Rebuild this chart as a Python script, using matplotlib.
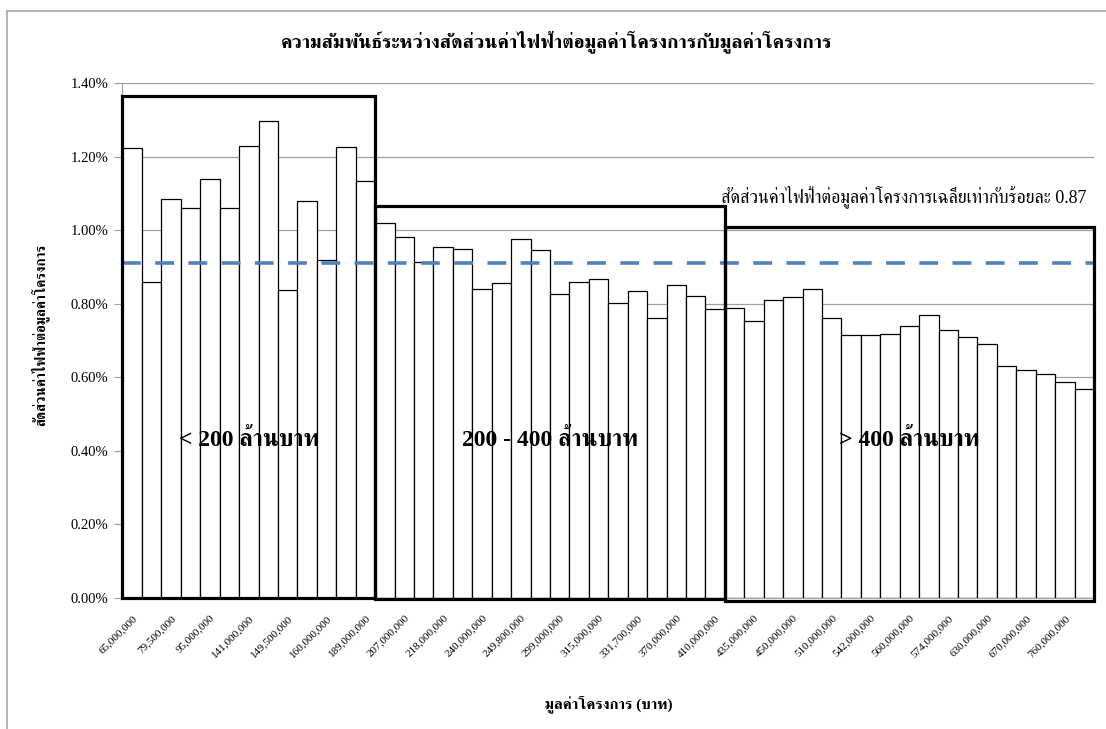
import matplotlib
matplotlib.use("Agg")
import matplotlib.pyplot as plt
from matplotlib import font_manager
from matplotlib.ft2font import FT2Font
from matplotlib.patches import Rectangle
import numpy as np

# ratio of electricity cost to project value (%), one bar per project
group_small = [1.223, 0.859, 1.085, 1.060, 1.140, 1.060, 1.230, 1.298, 0.837,
               1.078, 0.918, 1.226, 1.134]
group_mid = [1.019, 0.982, 0.913, 0.955, 0.949, 0.841, 0.855, 0.977, 0.945,
             0.826, 0.859, 0.868, 0.803, 0.835, 0.761, 0.850, 0.822, 0.785]
group_large = [0.788, 0.752, 0.809, 0.819, 0.841, 0.760, 0.714, 0.714, 0.717,
               0.739, 0.769, 0.729, 0.710, 0.690, 0.632, 0.621, 0.609, 0.587,
               0.568]

# project values shown under every second bar
value_labels = ["65,000,000", "79,500,000", "95,000,000", "141,000,000",
                "149,500,000", "160,000,000", "189,000,000", "207,000,000",
                "218,000,000", "240,000,000", "249,800,000", "299,000,000",
                "315,000,000", "331,700,000", "370,000,000", "410,000,000",
                "435,000,000", "450,000,000", "510,000,000", "542,000,000",
                "560,000,000", "574,000,000", "630,000,000", "670,000,000",
                "760,000,000"]

group_names = ["< 200 ล้านบาท", "200 - 400 ล้านบาท", "> 400 ล้านบาท"]
group_box_tops = [1.365, 1.066, 1.008]
ref_line = 0.91

title = "ความสัมพันธ์ระหว่างสัดส่วนค่าไฟฟ้าต่อมูลค่าโครงการกับมูลค่าโครงการ"
xlabel = "มูลค่าโครงการ (บาท)"
ylabel = "สัดส่วนค่าไฟฟ้าต่อมูลค่าโครงการ"
note = "สัดส่วนค่าไฟฟ้าต่อมูลค่าโครงการเฉลี่ยเท่ากับร้อยละ"


def find_thai_font():
    # pick an installed font that actually has Thai glyphs
    prefer = ["serif", "norasi", "kinnari", "sarabun", "laksaman", "garuda",
              "loma", "thai"]
    found = []
    for f in font_manager.fontManager.ttflist:
        try:
            cmap = FT2Font(f.fname).get_charmap()
        except Exception:
            continue
        if 0x0E01 in cmap and 0x0E48 in cmap:
            found.append(f.name)
    if not found:
        return None
    for key in prefer:
        for name in found:
            if key in name.lower():
                return name
    return found[0]


thai = find_thai_font()
fam = ["Liberation Serif"] + ([thai] if thai else []) + ["DejaVu Sans"]
plt.rcParams["font.family"] = fam

values = np.array(group_small + group_mid + group_large)
x = np.arange(len(values))

W, H = 1106, 729
fig = plt.figure(figsize=(W / 100, H / 100), dpi=100)


def fx(px):
    return px / W


def fy(py):
    return 1 - py / H


ax = fig.add_axes([fx(122.5), fy(598), fx(1094) - fx(122.5), fy(83) - fy(598)])

ax.bar(x, values, width=1.0, color="white", edgecolor="black",
       linewidth=0.9, zorder=2)

ax.axhline(ref_line, color="#4f81bd", linewidth=2.6, dashes=(5.2, 4.0),
           zorder=4)

# thick frames around the three project-size groups
sizes = [len(group_small), len(group_mid), len(group_large)]
bottoms = [0.0, -0.002, -0.007]
start = 0
for n, top, bot, name in zip(sizes, group_box_tops, bottoms, group_names):
    ax.add_patch(Rectangle((start - 0.5, bot), n, top - bot, fill=False,
                           edgecolor="black", linewidth=2.3, zorder=5,
                           clip_on=False))
    ax.text(start - 0.5 + n / 2, 0.43, name, ha="center", va="center",
            fontsize=17, fontweight="bold", zorder=6)
    start += n

ax.set_xlim(-0.5, len(values) - 0.5)
ax.set_ylim(0, 1.4)
ax.set_yticks(np.arange(0, 1.41, 0.2))
ax.set_yticklabels([f"{v:.2f}%" for v in np.arange(0, 1.41, 0.2)])
ax.set_xticks(x[::2])
ax.set_xticklabels(value_labels, rotation=45, ha="right", va="top",
                   rotation_mode="anchor", fontsize=8)

ax.yaxis.grid(True, color="#a0a0a0", linewidth=0.9, zorder=0)
ax.set_axisbelow(True)
for side in ["top", "right"]:
    ax.spines[side].set_visible(False)
ax.spines["left"].set_color("#a0a0a0")
ax.spines["bottom"].set_color("#a0a0a0")
ax.tick_params(axis="y", length=6, color="#a0a0a0", labelsize=10.5, pad=4)
ax.tick_params(axis="x", length=0, pad=11)

mean_val = values.mean()
ax.text(len(values) - 0.9, 1.09, f"{note} {mean_val:.2f}", ha="right",
        va="center", fontsize=13, zorder=6)

fig.text(fx(557), fy(42), title, ha="center", va="center", fontsize=14,
         fontweight="bold")
fig.text(fx(609), fy(704), xlabel, ha="center", va="center", fontsize=11,
         fontweight="bold")
fig.text(fx(40), fy(335), ylabel, ha="center", va="center", rotation=90,
         fontsize=10, fontweight="bold")

# chart area border
fig.add_artist(Rectangle((fx(7), fy(740)), 1.2, fy(11) - fy(740),
                         transform=fig.transFigure, fill=False,
                         edgecolor="#a6a6a6", linewidth=1.2))

fig.savefig("out.png", dpi=100)
